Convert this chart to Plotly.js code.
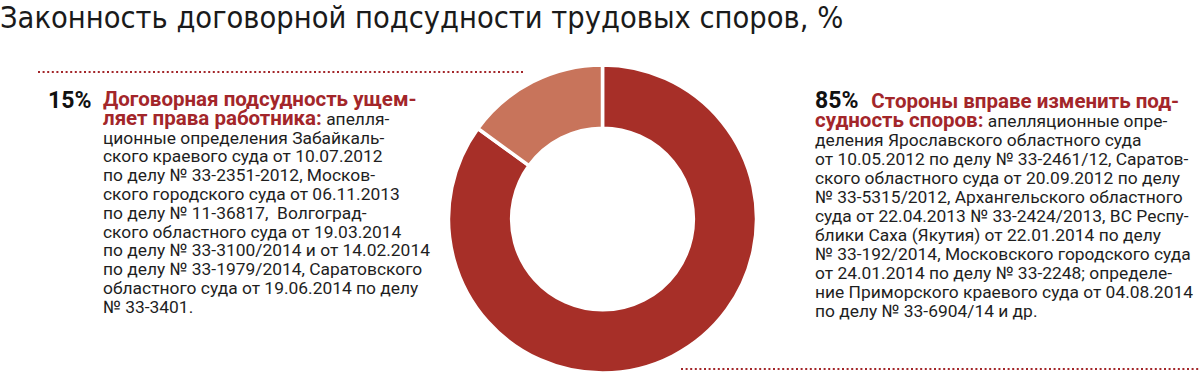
<!DOCTYPE html>
<html>
<head>
<meta charset="utf-8">
<script src="https://cdn.plot.ly/plotly-3.0.1.min.js"></script>
<style>html,body{margin:0;padding:0;background:#fff;}#chart{width:1200px;height:378px;}</style>
</head>
<body>
<div id="chart"></div>
<script>
// ---- data ----
const chartTitle = 'Законность договорной подсудности трудовых споров, %';
const sliceLabels = ['Стороны вправе изменить подсудность споров', 'Договорная подсудность ущемляет права работника'];
const sliceValues = [85, 15];
const sliceColors = ['#a72f28', '#c8745b'];

const leftPct = '15%';
const leftHead = ['Договорная подсудность ущем-', 'ляет права работника:'];
const leftBody = [
  ' апелля-',
  'ционные определения Забайкаль-',
  'ского краевого суда от 10.07.2012',
  'по делу № 33-2351-2012, Москов-',
  'ского городского суда от 06.11.2013',
  'по делу № 11-36817,  Волгоград-',
  'ского областного суда от 19.03.2014',
  'по делу № 33-3100/2014 и от 14.02.2014',
  'по делу № 33-1979/2014, Саратовского',
  'областного суда от 19.06.2014 по делу',
  '№ 33-3401.'
];

const rightPct = '85%';
const rightHead = ['Стороны вправе изменить под-', 'судность споров:'];
const rightBody = [
  ' апелляционные опре-',
  'деления Ярославского областного суда',
  'от 10.05.2012 по делу № 33-2461/12, Саратов-',
  'ского областного суда от 20.09.2012 по делу',
  '№ 33-5315/2012, Архангельского областного',
  'суда от 22.04.2013 № 33-2424/2013, ВС Респу-',
  'блики Саха (Якутия) от 22.01.2014 по делу',
  '№ 33-192/2014, Московского городского суда',
  'от 24.01.2014 по делу № 33-2248; определе-',
  'ние Приморского краевого суда от 04.08.2014',
  'по делу № 33-6904/14 и др.'
];

// ---- layout helpers ----
const W = 1200, H = 378;
const RED = '#a3262a', INK = '#1e1e1e';
const HEAD_SIZE = 20.5, BODY_SIZE = 17.4, PCT_SIZE = 23;
const FONT = 'Roboto, sans-serif';
const px = x => x / W;
const py = y => 1 - y / H;

const head = t => '<span style="font-size:' + HEAD_SIZE + 'px;color:' + RED + '"><b>' + t + '</b></span>';
const body = t => '<span style="font-size:' + BODY_SIZE + 'px">' + t + '</span>';
const pct = t => '<span style="font-size:' + PCT_SIZE + 'px;color:#111"><b>' + t + '</b></span>';

function blockLines(firstLine, headArr, bodyArr) {
  const lines = [firstLine, head(headArr[1]) + body(bodyArr[0])];
  for (let i = 1; i < bodyArr.length; i++) lines.push(body(bodyArr[i]));
  return lines.join('<br>');
}

const NBSP = '\u00A0';
const leftText = blockLines(head(leftHead[0]), leftHead, leftBody);
const rightText = blockLines(pct(rightPct) + body(NBSP + NBSP + NBSP) + head(rightHead[0]), rightHead, rightBody);

const annotations = [
  {xref: 'paper', yref: 'paper', x: px(47), y: py(86), xanchor: 'left', yanchor: 'top',
   showarrow: false, text: pct(leftPct), font: {family: FONT, size: 14.5, color: INK}, borderpad: 0},
  {xref: 'paper', yref: 'paper', x: px(102), y: py(86), xanchor: 'left', yanchor: 'top', align: 'left',
   showarrow: false, text: leftText, font: {family: FONT, size: 14.46, color: INK}, borderpad: 0},
  {xref: 'paper', yref: 'paper', x: px(814), y: py(86), xanchor: 'left', yanchor: 'top', align: 'left',
   showarrow: false, text: rightText, font: {family: FONT, size: 14.62, color: INK}, borderpad: 0}
];

const trace = {
  type: 'pie',
  values: sliceValues,
  labels: sliceLabels,
  marker: {colors: sliceColors, line: {color: '#ffffff', width: 3.5}},
  hole: 0.59,
  sort: false,
  direction: 'clockwise',
  rotation: 0,
  textinfo: 'none',
  hoverinfo: 'label+value',
  showlegend: false,
  domain: {x: [px(448), px(757)], y: [py(373), py(65)]}
};

const layout = {
  width: W, height: H,
  margin: {l: 0, r: 0, t: 0, b: 0},
  paper_bgcolor: '#ffffff',
  plot_bgcolor: '#ffffff',
  showlegend: false,
  title: {
    text: chartTitle,
    x: 0, xref: 'container', xanchor: 'left',
    y: 1 - 6.5 / H, yref: 'container', yanchor: 'top',
    pad: {l: 0, t: 0, r: 0, b: 0},
    font: {family: '"Liberation Sans Narrow", "DejaVu Sans Condensed", sans-serif', size: 30.5, color: '#1a1a1a'}
  },
  shapes: [
    {type: 'line', xref: 'paper', yref: 'paper', x0: px(38), x1: px(524), y0: py(72), y1: py(72),
     line: {color: RED, width: 2.2, dash: '2px,2.6px'}},
    {type: 'line', xref: 'paper', yref: 'paper', x0: px(681), x1: px(1200), y0: py(369), y1: py(369),
     line: {color: RED, width: 2.2, dash: '2px,2.6px'}}
  ],
  annotations: annotations
};

Plotly.newPlot('chart', [trace], layout, {displayModeBar: false, staticPlot: true});
</script>
</body>
</html>
